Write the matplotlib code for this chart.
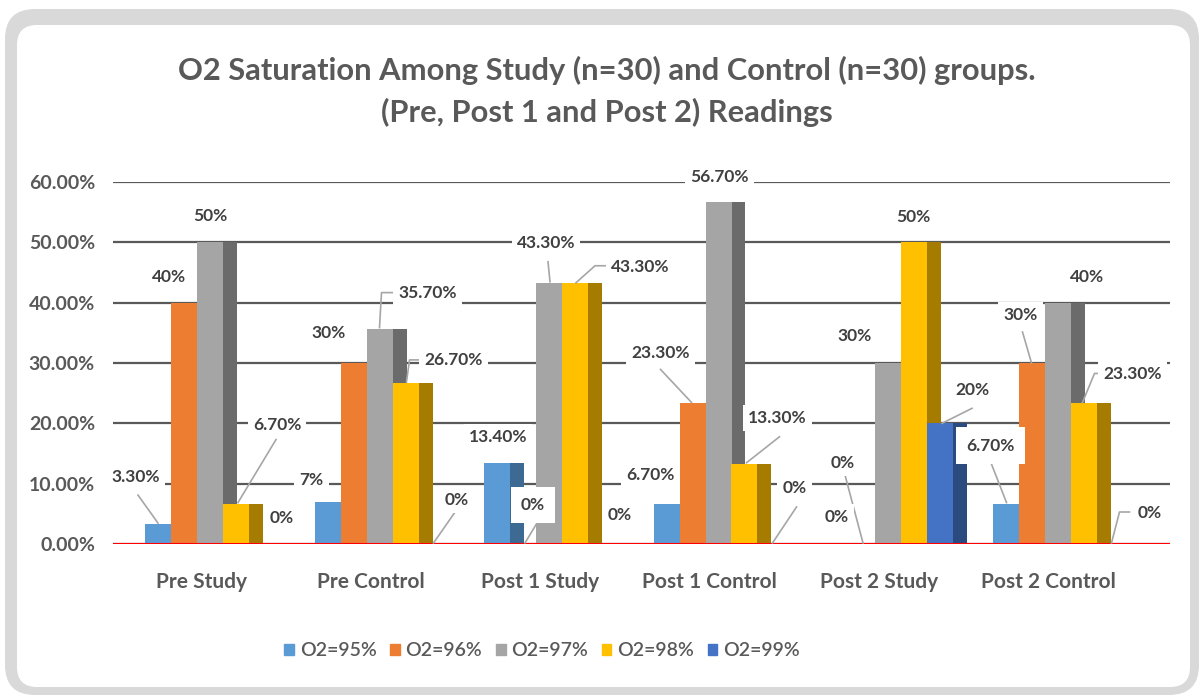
import matplotlib
matplotlib.use('Agg')
import matplotlib.pyplot as plt
import matplotlib.transforms as mtransforms
from matplotlib.patches import FancyBboxPatch, Patch
from matplotlib.ticker import PercentFormatter

# ---- data (percent) ----
groups = ['Pre Study', 'Pre Control', 'Post 1 Study', 'Post 1 Control',
          'Post 2 Study', 'Post 2 Control']
series = ['O2=95%', 'O2=96%', 'O2=97%', 'O2=98%', 'O2=99%']

o2_95 = [3.3, 7.0, 13.4, 6.7, 0.0, 6.7]
o2_96 = [40.0, 30.0, 0.0, 23.3, 0.0, 30.0]
o2_97 = [50.0, 35.7, 43.3, 56.7, 30.0, 40.0]
o2_98 = [6.7, 26.7, 43.3, 13.3, 50.0, 23.3]
o2_99 = [0.0, 0.0, 0.0, 0.0, 20.0, 0.0]

# data labels as printed on the chart
lab_95 = ['3.30%', '7%', '13.40%', '6.70%', '0%', '6.70%']
lab_96 = ['40%', '30%', '0%', '23.30%', '0%', '30%']
lab_97 = ['50%', '35.70%', '43.30%', '56.70%', '30%', '40%']
lab_98 = ['6.70%', '26.70%', '43.30%', '13.30%', '50%', '23.30%']
lab_99 = ['0%', '0%', '0%', '0%', '20%', '0%']

values = [o2_95, o2_96, o2_97, o2_98, o2_99]
labels = [lab_95, lab_96, lab_97, lab_98, lab_99]

# ---- style ----
face_colors = ['#5B9BD5', '#ED7D31', '#A5A5A5', '#FFC000', '#4472C4']
side_colors = ['#3C6A92', '#A9561F', '#6B6B6B', '#A67C00', '#2B4A80']
text_col = '#595959'
lab_col = '#404040'

# label offsets in pixels from the bar top (dx, dy) and leader polyline
# key: (series, group)
label_layout = {
    (0, 0): (-22, 47, [(-20, 29), (0, 1)]),
    (1, 0): (-15, 26, None),
    (2, 0): (0, 26, None),
    (3, 0): (41, 79, [(40, 64), (2, 1)]),
    (4, 0): (20, 26, None),
    (0, 1): (-16, 22, None),
    (1, 1): (-25, 30, None),
    (2, 1): (48, 36, [(14, 36), (2, 36), (0, 1)]),
    (3, 1): (48, 23, [(17, 23), (4, 23), (1, 1)]),
    (4, 1): (25, 44, [(25, 34), (2, 1)]),
    (0, 2): (1, 26, None),
    (1, 2): (10, 39, [(14, 21), (2, 1)]),
    (2, 2): (-3, 40, [(-1, 21), (1, 1)]),
    (3, 2): (65, 16, [(32, 17), (20, 17), (1, 0)]),
    (4, 2): (19, 29, None),
    (0, 3): (-16, 29, None),
    (1, 3): (-32, 50, [(-32, 34), (-1, 1)]),
    (2, 3): (1, 25, None),
    (3, 3): (33, 46, [(35, 27), (2, 1)]),
    (4, 3): (24, 56, [(26, 37), (2, 1)]),
    (0, 4): (7, 81, [(9, 69), (27, 1)]),
    (1, 4): (-25, 27, None),
    (2, 4): (-33, 27, None),
    (3, 4): (-1, 25, None),
    (4, 4): (32, 33, [(32, 15), (2, 0)]),
    (0, 5): (-15, 58, [(-15, 42), (1, 1)]),
    (1, 5): (-11, 48, [(-9, 31), (0, 0)]),
    (2, 5): (30, 26, None),
    (3, 5): (49, 29, [(19, 30), (11, 30), (-1, 1)]),
    (4, 5): (40, 31, [(20, 32), (10, 32), (2, 1)]),
}
# labels whose white box is visibly larger
big_box = {(1, 2), (0, 5)}

plt.rcParams['font.family'] = ['Lato', 'DejaVu Sans']

W, H = 1201, 696
fig = plt.figure(figsize=(W / 100, H / 100), dpi=100)

# rounded chart frame
pix = mtransforms.IdentityTransform()
fig.patches.append(FancyBboxPatch((5, 1), 1194, 686,
                                  boxstyle='round,pad=0,rounding_size=30',
                                  fc='#D9D9D9', ec='none', transform=pix, zorder=-2))
fig.patches.append(FancyBboxPatch((17, 9), 1173, 662,
                                  boxstyle='round,pad=0,rounding_size=20',
                                  fc='white', ec='none', transform=pix, zorder=-1))

ax = fig.add_axes([113 / W, (H - 544) / H, (1170 - 113) / W, (544 - 182) / H])
ax.set_zorder(2)
ax.patch.set_alpha(0)

pitch = 26 / 169.5
side_w = 14 / 169.5
start = -56 / 169.5

z = 3
for i, vals in enumerate(values):
    xs = [k + start + i * pitch for k in range(len(groups))]
    v = [x / 100 for x in vals]
    ax.bar([x + pitch for x in xs], v, width=side_w, align='edge',
           color=side_colors[i], zorder=z)
    ax.bar(xs, v, width=pitch, align='edge', color=face_colors[i], zorder=z + 1)
    z += 2

ax.set_xlim(-88 / 169.5, 969 / 169.5)
ax.set_ylim(0, 0.6)
ax.set_yticks([0, 0.1, 0.2, 0.3, 0.4, 0.5, 0.6])
ax.yaxis.set_major_formatter(PercentFormatter(1, decimals=2))
ax.set_xticks(range(len(groups)))
ax.set_xticklabels(groups)
ax.yaxis.grid(True, color='#595959', lw=1.6)
ax.set_axisbelow(True)
for s in ax.spines.values():
    s.set_visible(False)
ax.tick_params(axis='both', length=0)
ax.tick_params(axis='y', labelsize=14, labelcolor=text_col, pad=13)
ax.tick_params(axis='x', labelsize=15, labelcolor=text_col, pad=20)
for t in ax.get_xticklabels() + ax.get_yticklabels():
    t.set_fontweight('bold')
ax.axhline(0, color='#FF0000', lw=2.2, zorder=30)

# data labels
for i, vals in enumerate(values):
    for k, val in enumerate(vals):
        xc = k + start + i * pitch + pitch / 2
        dx, dy, leader = label_layout[(i, k)]
        ax0, ay0 = ax.transData.transform((xc, val / 100))
        if leader:
            lx = [ax0 + p[0] for p in leader]
            ly = [ay0 + p[1] for p in leader]
            ax.plot(lx, ly, color='#A6A6A6', lw=1.2, transform=pix,
                    clip_on=False, zorder=35)
        pad = 0.6 if (i, k) in big_box else 0.3
        tr = mtransforms.offset_copy(ax.transData, fig=fig, x=dx, y=dy, units='dots')
        ax.text(xc, val / 100, labels[i][k], transform=tr, ha='center', va='center',
                fontsize=12.5, fontweight='bold', color=lab_col, zorder=40,
                bbox=dict(boxstyle='square,pad=%s' % pad, fc='white', ec='none'))

fig.text(607 / W, 1 - 70 / H,
         'O2 Saturation Among Study (n=30) and Control (n=30) groups.',
         ha='center', va='center', fontsize=22.2, fontweight='bold', color=text_col)
fig.text(607 / W, 1 - 112 / H, '(Pre, Post 1 and Post 2) Readings',
         ha='center', va='center', fontsize=22.2, fontweight='bold', color=text_col)

handles = [Patch(color=c) for c in face_colors]
fig.legend(handles, series, loc='center', bbox_to_anchor=(542 / W, 1 - 651 / H),
           ncol=5, frameon=False, fontsize=14, handlelength=0.5, handleheight=0.5,
           handletextpad=0.3, columnspacing=0.7, labelcolor=text_col,
           prop={'size': 14, 'weight': 'semibold'})

fig.savefig('out.png', dpi=100)
